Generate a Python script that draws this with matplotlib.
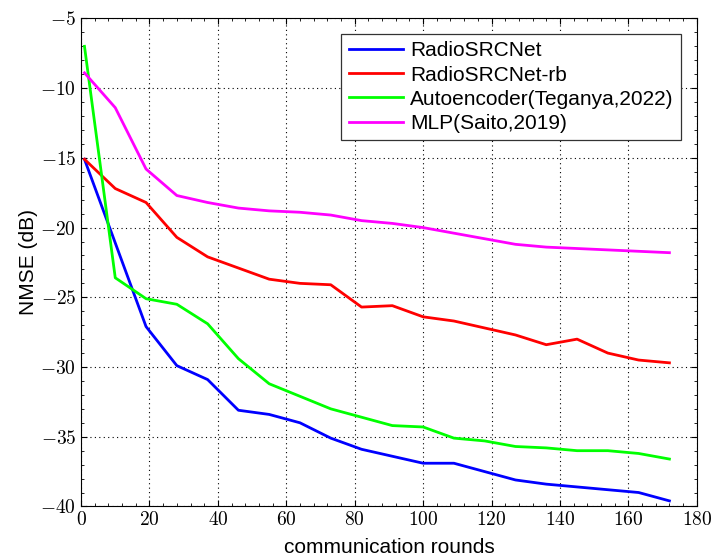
import matplotlib
matplotlib.use('Agg')
import matplotlib.pyplot as plt
from matplotlib.ticker import FuncFormatter, MultipleLocator

plt.rcParams['mathtext.fontset'] = 'cm'
plt.rcParams['font.family'] = ['Liberation Sans', 'DejaVu Sans']

rounds = [1, 10, 19, 28, 37, 46, 55, 64, 73, 82, 91, 100, 109, 118, 127, 136, 145, 154, 163, 172]

radiosrcnet = [-15.1, -21.1, -27.1, -29.9, -30.9, -33.1, -33.4, -34.0, -35.1, -35.9, -36.4, -36.9,
               -36.9, -37.5, -38.1, -38.4, -38.6, -38.8, -39.0, -39.6]
radiosrcnet_rb = [-15.1, -17.2, -18.2, -20.7, -22.1, -22.9, -23.7, -24.0, -24.1, -25.7, -25.6, -26.4,
                  -26.7, -27.2, -27.7, -28.4, -28.0, -29.0, -29.5, -29.7]
autoencoder = [-7.0, -23.6, -25.1, -25.5, -26.9, -29.4, -31.2, -32.1, -33.0, -33.6, -34.2, -34.3,
               -35.1, -35.3, -35.7, -35.8, -36.0, -36.0, -36.2, -36.6]
mlp = [-8.9, -11.4, -15.8, -17.7, -18.2, -18.6, -18.8, -18.9, -19.1, -19.5, -19.7, -20.0,
       -20.4, -20.8, -21.2, -21.4, -21.5, -21.6, -21.7, -21.8]

fig = plt.figure(figsize=(7.11, 5.59), dpi=100)
ax = fig.add_axes([0.114, 0.094, 0.866, 0.873])

ax.plot(rounds, radiosrcnet, color=(0, 0, 1), lw=2.0, label='RadioSRCNet')
ax.plot(rounds, radiosrcnet_rb, color=(1, 0, 0), lw=2.0, label='RadioSRCNet-rb')
ax.plot(rounds, autoencoder, color=(0, 1, 0), lw=2.0, label='Autoencoder(Teganya,2022)')
ax.plot(rounds, mlp, color=(1, 0, 1), lw=2.0, label='MLP(Saito,2019)')

ax.set_xlim(0, 180)
ax.set_ylim(-40, -5)
ax.xaxis.set_major_locator(MultipleLocator(20))
ax.yaxis.set_major_locator(MultipleLocator(5))
ax.xaxis.set_minor_locator(MultipleLocator(4))
ax.yaxis.set_minor_locator(MultipleLocator(1))
fmt = FuncFormatter(lambda v, p: '$%g$' % v)
ax.xaxis.set_major_formatter(fmt)
ax.yaxis.set_major_formatter(fmt)
ax.tick_params(which='both', direction='in', top=True, right=True, labelsize=14)
ax.tick_params(which='major', length=4)
ax.tick_params(which='minor', length=2)
ax.grid(True, which='major', color='black', linestyle=(0, (1, 3)), lw=0.8)
for s in ax.spines.values():
    s.set_linewidth(0.8)

ax.set_xlabel('communication rounds', fontsize=15, labelpad=6)
ax.set_ylabel('NMSE (dB)', fontsize=15, labelpad=2)

leg = ax.legend(loc='upper right', bbox_to_anchor=(0.974, 0.968), borderaxespad=0,
                fontsize=15, fancybox=False, framealpha=1, edgecolor='#333333',
                handlelength=2.6, handletextpad=0.35, borderpad=0.35, labelspacing=0.25)
leg.get_frame().set_linewidth(0.9)

plt.savefig('out.png', dpi=100)
